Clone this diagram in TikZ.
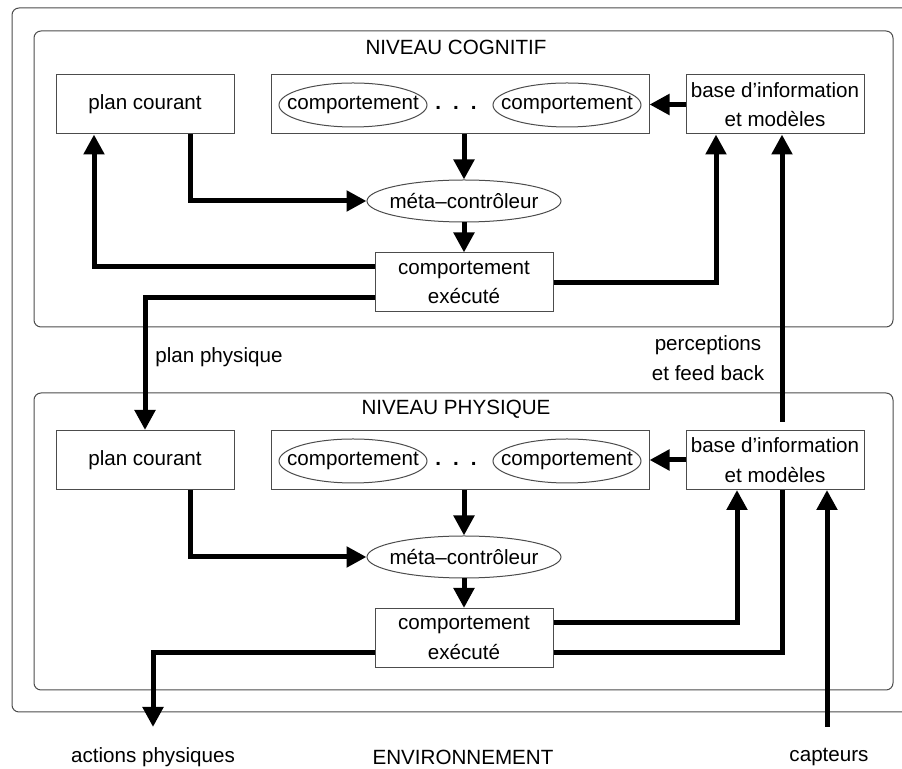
\documentclass[tikz,border=0pt]{standalone}
\usepackage{fontspec}
\setmainfont{Liberation Sans}
\usetikzlibrary{arrows.meta,shapes.geometric}

\tikzset{
  box/.style={draw=black!70, line width=0.5pt, minimum width=89pt, minimum height=29.5pt, align=center, inner sep=0pt},
  oval/.style={ellipse, draw=black!70, line width=0.5pt, inner sep=0pt, minimum width=74pt, minimum height=22pt},
  level/.style={draw=black!70, line width=0.5pt, rounded corners=3.5pt},
  flow/.style={line width=2.5pt, -{Triangle[width=10pt,length=10pt]}},
  bare/.style={line width=2.5pt}
}

\begin{document}
\begin{tikzpicture}[x=0.5pt, y=-0.5pt, font=\fontsize{10.3}{14.8}\selectfont]
  \useasboundingbox (0,0) rectangle (902,769);
  \clip (0,0) rectangle (902,769);

  % Environment and the two levels
  \draw[level] (12,8) rectangle (940,712);
  \draw[level] (34,31) rectangle (893,327);
  \draw[level] (34,393) rectangle (893,690);
  \node (titlec) at (456,47) {NIVEAU COGNITIF};
  \node (titlep) at (456,409) {NIVEAU PHYSIQUE};

  % Cognitive level
  \node[box] (planc) at (145,104.5) {plan courant};
  \node[box, minimum width=189pt] (groupc) at (460,104.5) {};
  \node[oval] (behc1) at (353,105) {\makebox[0pt]{comportement}};
  \node (dotsc) at (456,108) {\textbf{.\hspace{6pt}.\hspace{6pt}.}};
  \node[oval] (behc2) at (567,105) {\makebox[0pt]{comportement}};
  \node[box] (basec) at (775,104.5) {base d'information\\et modèles};
  \node[oval, minimum width=97pt, minimum height=21pt] (metac) at (464,201) {\makebox[0pt]{méta–contrôleur}};
  \node[box] (execc) at (464,282.5) {comportement\\exécuté};

  % Physical level
  \node[box] (planp) at (145,460) {plan courant};
  \node[box, minimum width=189pt] (groupp) at (460,460) {};
  \node[oval] (behp1) at (353,461) {\makebox[0pt]{comportement}};
  \node (dotsp) at (456,464) {\textbf{.\hspace{6pt}.\hspace{6pt}.}};
  \node[oval] (behp2) at (567,461) {\makebox[0pt]{comportement}};
  \node[box] (basep) at (775,460) {base d'information\\et modèles};
  \node[oval, minimum width=97pt, minimum height=21pt] (metap) at (464,557) {\makebox[0pt]{méta–contrôleur}};
  \node[box] (execp) at (464,638) {comportement\\exécuté};

  % Outside labels
  \node[anchor=west, inner sep=0pt] (plabel) at (155,357) {plan physique};
  \node[align=center] (percep) at (708,358) {perceptions\\et feed back};
  \node (actions) at (153,757) {actions physiques};
  \node (envt) at (463,757) {ENVIRONNEMENT};
  \node (capt) at (829,757) {capteurs};
  \coordinate (actout) at (153,727);
  \coordinate (captin) at (827,727);

  % Flows inside the cognitive level
  \draw[flow] (basec.west) -- (groupc.east);
  \draw[flow] (groupc.south -| metac) -- (metac.north);
  \draw[flow] (metac.south) -- (execc.north);
  \draw[flow] ([xshift=22.5pt]planc.south) |- (metac.west);
  \draw[flow] ([yshift=7.75pt]execc.west) -| ([xshift=-25.5pt]planc.south);
  \draw[flow] (execc.east) -| ([xshift=-29.5pt]basec.south);

  % Between the levels
  \draw[flow] ([yshift=-7.75pt]execc.west) -| (planp.north);
  \draw[flow] ([xshift=3.5pt,yshift=4pt]basep.north) -- ([xshift=3.5pt]basec.south);

  % Flows inside the physical level
  \draw[flow] (basep.west) -- (groupp.east);
  \draw[flow] (groupp.south -| metap) -- (metap.north);
  \draw[flow] (metap.south) -- (execp.north);
  \draw[flow] ([xshift=22.5pt]planp.south) |- (metap.west);
  \draw[flow] ([yshift=7.5pt]execp.east) -| ([xshift=-19pt]basep.south);
  \draw[bare] ([yshift=-7.5pt]execp.east) -| ([xshift=3.5pt]basep.south);
  \draw[flow] ([yshift=-7.5pt]execp.west) -| (actout);
  \draw[flow] (captin) -- (captin |- basep.south);
\end{tikzpicture}
\end{document}
